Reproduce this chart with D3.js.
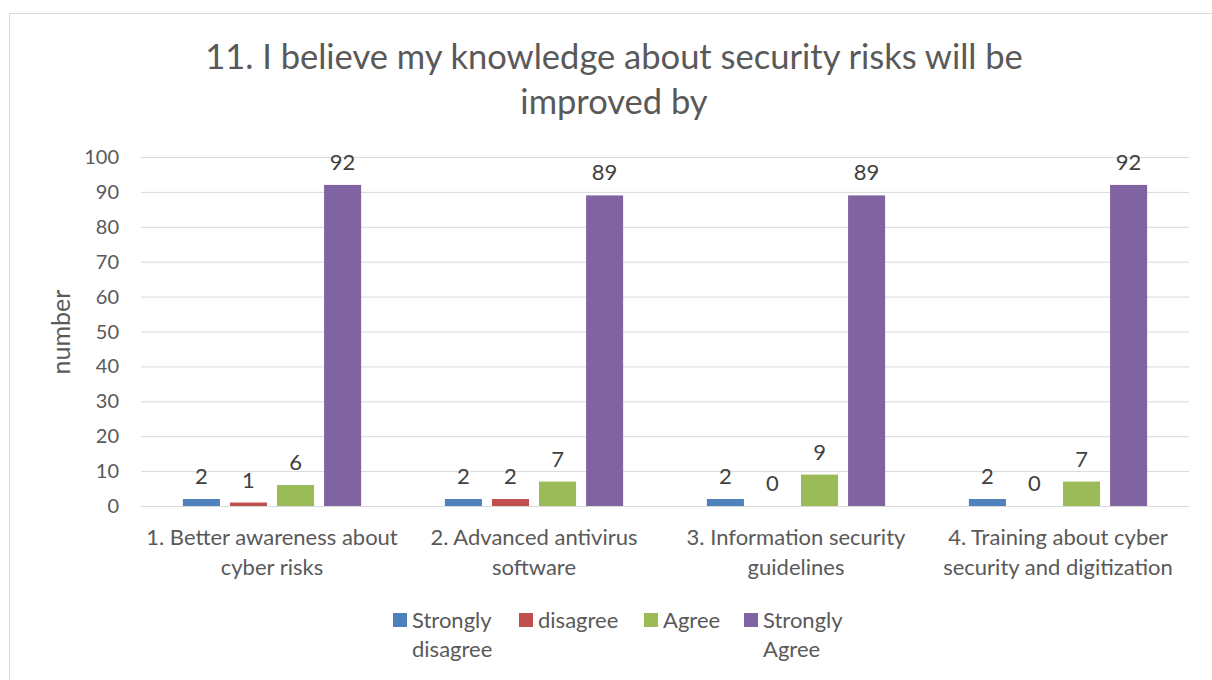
<!DOCTYPE html>
<html>
<head>
<meta charset="utf-8">
<script src="https://cdn.jsdelivr.net/npm/d3@7"></script>
<style>
  body { margin: 0; background: #fff; }
  text { font-family: Lato, "Open Sans", sans-serif; fill: #595959; }
</style>
</head>
<body>
<div id="chart"></div>
<script>
// chart data
const categories = [
  ["1. Better awareness about", "cyber risks"],
  ["2. Advanced antivirus", "software"],
  ["3. Information security", "guidelines"],
  ["4. Training about cyber", "security and digitization"]
];
const seriesNames = ["Strongly disagree", "disagree", "Agree", "Strongly Agree"];
const legendLines = [["Strongly", "disagree"], ["disagree"], ["Agree"], ["Strongly", "Agree"]];
const seriesColors = ["#4f81bd", "#c0504d", "#9bbb59", "#8064a2"];
const stronglyDisagree = [2, 2, 2, 2];
const disagreeVals = [1, 2, 0, 0];
const agreeVals = [6, 7, 9, 7];
const stronglyAgree = [92, 89, 89, 92];
const yTicks = [0, 10, 20, 30, 40, 50, 60, 70, 80, 90, 100];

const values = [stronglyDisagree, disagreeVals, agreeVals, stronglyAgree];

const width = 1212, height = 680;
const svg = d3.select("#chart").append("svg")
  .attr("width", width)
  .attr("height", height);

// chart border (Excel-like)
svg.append("rect")
  .attr("x", 9.5).attr("y", 13.5)
  .attr("width", 1240).attr("height", 700)
  .attr("fill", "none")
  .attr("stroke", "#d9d9d9");

const plotLeft = 141, plotRight = 1189, plotTop = 157, plotBottom = 506;

const y = d3.scaleLinear().domain([0, 100]).range([plotBottom, plotTop]);
const x0 = d3.scaleBand().domain(d3.range(categories.length)).range([plotLeft, plotRight]);
const x1 = d3.scaleBand().domain(d3.range(seriesNames.length))
  .range([0, x0.bandwidth()])
  .paddingInner(0.213)
  .paddingOuter(0.89);

// gridlines
svg.append("g")
  .selectAll("line")
  .data(yTicks)
  .enter().append("line")
  .attr("x1", plotLeft).attr("x2", plotRight)
  .attr("y1", d => y(d) + 0.5).attr("y2", d => y(d) + 0.5)
  .attr("stroke", "#d9d9d9")
  .attr("stroke-width", 1);

// y tick labels
svg.append("g")
  .selectAll("text")
  .data(yTicks)
  .enter().append("text")
  .attr("x", 119)
  .attr("y", d => y(d))
  .attr("dy", "0.35em")
  .attr("text-anchor", "end")
  .style("font-size", "20px")
  .text(d => d);

// y axis title
svg.append("text")
  .attr("transform", "translate(70,332) rotate(-90)")
  .attr("text-anchor", "middle")
  .style("font-size", "25px")
  .text("number");

// bars
const groups = svg.append("g")
  .selectAll("g")
  .data(categories)
  .enter().append("g")
  .attr("transform", (d, i) => `translate(${x0(i)},0)`);

groups.each(function(c, ci) {
  const g = d3.select(this);
  seriesNames.forEach((s, si) => {
    const v = values[si][ci];
    g.append("rect")
      .attr("x", x1(si))
      .attr("y", y(v))
      .attr("width", x1.bandwidth())
      .attr("height", plotBottom - y(v))
      .attr("fill", seriesColors[si]);
    g.append("text")
      .attr("x", x1(si) + x1.bandwidth() / 2)
      .attr("y", y(v) - 15)
      .attr("text-anchor", "middle")
      .style("font-size", "22px")
      .style("fill", "#404040")
      .text(v);
  });
  // category label
  g.append("text")
    .attr("x", x0.bandwidth() / 2)
    .attr("y", 545)
    .attr("text-anchor", "middle")
    .style("font-size", "22px")
    .selectAll("tspan")
    .data(c)
    .enter().append("tspan")
    .attr("x", x0.bandwidth() / 2)
    .attr("dy", (d, i) => i === 0 ? 0 : 30)
    .text(d => d);
});

// title
svg.append("text")
  .attr("x", 614)
  .attr("y", 69)
  .attr("text-anchor", "middle")
  .style("font-size", "34.5px")
  .selectAll("tspan")
  .data(["11. I believe my knowledge about security risks will be", "improved by"])
  .enter().append("tspan")
  .attr("x", 614)
  .attr("dy", (d, i) => i === 0 ? 0 : 45)
  .text(d => d);

// legend
const legendX = [393, 519, 644, 744];
const legend = svg.append("g");
legendLines.forEach((lines, i) => {
  const g = legend.append("g").attr("transform", `translate(${legendX[i]},0)`);
  g.append("rect")
    .attr("x", 0).attr("y", 613)
    .attr("width", 14).attr("height", 14)
    .attr("fill", seriesColors[i]);
  g.append("text")
    .attr("y", 628)
    .style("font-size", "22px")
    .selectAll("tspan")
    .data(lines)
    .enter().append("tspan")
    .attr("x", 19)
    .attr("dy", (d, j) => j === 0 ? 0 : 29)
    .text(d => d);
});
</script>
</body>
</html>
